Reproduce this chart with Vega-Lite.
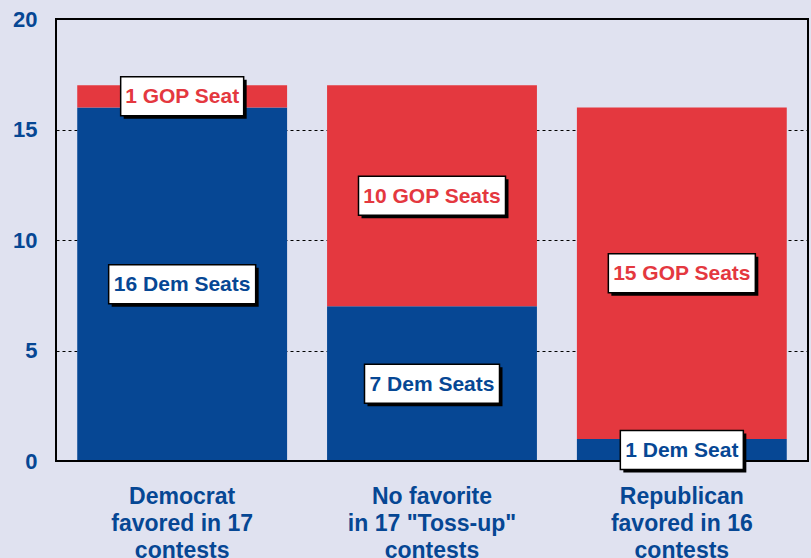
{
  "$schema": "https://vega.github.io/schema/vega-lite/v6.json",
  "width": 752,
  "height": 442,
  "autosize": {"type": "none"},
  "padding": {"left": 56, "top": 19, "right": 3, "bottom": 97},
  "background": "#e0e2f0",
  "config": {
    "view": {"stroke": "black", "strokeWidth": 2},
    "font": "Liberation Sans",
    "axis": {
      "labelFont": "Liberation Sans",
      "labelFontWeight": "bold",
      "labelColor": "#064794",
      "ticks": false,
      "tickSize": 0,
      "domain": false,
      "title": null
    }
  },
  "data": {
    "values": [
      {"category": "Democrat|favored in 17|contests", "party": "Dem", "seats": 16, "label": "16 Dem Seats"},
      {"category": "Democrat|favored in 17|contests", "party": "GOP", "seats": 1, "label": "1 GOP Seat"},
      {"category": "No favorite|in 17 \"Toss-up\"|contests", "party": "Dem", "seats": 7, "label": "7 Dem Seats"},
      {"category": "No favorite|in 17 \"Toss-up\"|contests", "party": "GOP", "seats": 10, "label": "10 GOP Seats"},
      {"category": "Republican|favored in 16|contests", "party": "Dem", "seats": 1, "label": "1 Dem Seat"},
      {"category": "Republican|favored in 16|contests", "party": "GOP", "seats": 15, "label": "15 GOP Seats"}
    ]
  },
  "transform": [
    {"stack": "seats", "groupby": ["category"], "sort": [{"field": "party", "order": "ascending"}], "as": ["s0", "s1"]},
    {"calculate": "(datum.s0 + datum.s1) / 2", "as": "mid"}
  ],
  "encoding": {
    "x": {
      "field": "category",
      "type": "nominal",
      "sort": null,
      "scale": {"paddingInner": 0.16, "paddingOuter": 0.085},
      "axis": {
        "labelAngle": 0,
        "labelExpr": "split(datum.label, '|')",
        "labelFontSize": 23,
        "labelLineHeight": 27,
        "labelBaseline": "top",
        "labelPadding": 24,
        "labelLimit": 0,
        "labelOverlap": false,
        "grid": false
      }
    }
  },
  "layer": [
    {
      "mark": {"type": "bar"},
      "encoding": {
        "y": {
          "field": "s0",
          "type": "quantitative",
          "scale": {"domain": [0, 20], "nice": false},
          "axis": {
            "values": [0, 5, 10, 15, 20],
            "labelFontSize": 22,
            "labelPadding": 19,
            "grid": true,
            "gridColor": "black",
            "gridDash": [3, 3],
            "gridWidth": 1
          }
        },
        "y2": {"field": "s1"},
        "color": {
          "field": "party",
          "type": "nominal",
          "scale": {"domain": ["Dem", "GOP"], "range": ["#064794", "#e4383f"]},
          "legend": null
        }
      }
    },
    {
      "mark": {"type": "rule", "color": "black", "strokeWidth": 2},
      "encoding": {"y": {"datum": 0, "type": "quantitative"}, "x": null}
    },
    {
      "transform": [{"filter": "length(datum.label) == 10"}],
      "mark": {"type": "rect", "width": 123, "color": "black", "xOffset": 3, "yOffset": -16.5, "y2Offset": 22.5},
      "encoding": {"y": {"field": "mid", "type": "quantitative"}, "y2": {"field": "mid"}}
    },
    {
      "transform": [{"filter": "length(datum.label) == 11"}],
      "mark": {"type": "rect", "width": 135, "color": "black", "xOffset": 3, "yOffset": -16.5, "y2Offset": 22.5},
      "encoding": {"y": {"field": "mid", "type": "quantitative"}, "y2": {"field": "mid"}}
    },
    {
      "transform": [{"filter": "length(datum.label) == 12"}],
      "mark": {"type": "rect", "width": 147, "color": "black", "xOffset": 3, "yOffset": -16.5, "y2Offset": 22.5},
      "encoding": {"y": {"field": "mid", "type": "quantitative"}, "y2": {"field": "mid"}}
    },
    {
      "transform": [{"filter": "length(datum.label) == 10"}],
      "mark": {"type": "rect", "width": 123, "fill": "white", "stroke": "black", "strokeWidth": 1.5, "yOffset": -19.5, "y2Offset": 19.5},
      "encoding": {"y": {"field": "mid", "type": "quantitative"}, "y2": {"field": "mid"}}
    },
    {
      "transform": [{"filter": "length(datum.label) == 11"}],
      "mark": {"type": "rect", "width": 135, "fill": "white", "stroke": "black", "strokeWidth": 1.5, "yOffset": -19.5, "y2Offset": 19.5},
      "encoding": {"y": {"field": "mid", "type": "quantitative"}, "y2": {"field": "mid"}}
    },
    {
      "transform": [{"filter": "length(datum.label) == 12"}],
      "mark": {"type": "rect", "width": 147, "fill": "white", "stroke": "black", "strokeWidth": 1.5, "yOffset": -19.5, "y2Offset": 19.5},
      "encoding": {"y": {"field": "mid", "type": "quantitative"}, "y2": {"field": "mid"}}
    },
    {
      "mark": {"type": "text", "font": "Liberation Sans", "fontWeight": "bold", "fontSize": 21, "baseline": "middle", "dy": 1},
      "encoding": {
        "y": {"field": "mid", "type": "quantitative"},
        "text": {"field": "label"},
        "color": {"field": "party", "type": "nominal", "legend": null}
      }
    }
  ]
}
